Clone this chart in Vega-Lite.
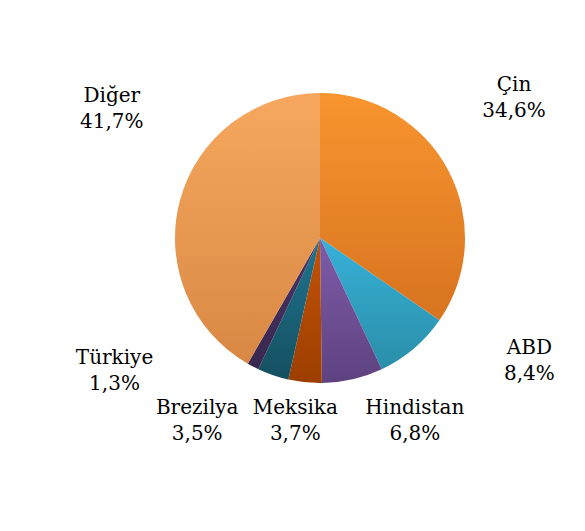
{
  "$schema": "https://vega.github.io/schema/vega-lite/v6.json",
  "width": 530,
  "height": 476,
  "autosize": {"type": "none"},
  "padding": {"left": 55, "top": 0, "right": 0, "bottom": 55},
  "background": "#FFFFFF",
  "config": {"view": {"stroke": null}},
  "data": {
    "values": [
      {"ulke": "Çin", "pay": 34.6, "etiket": "34,6%", "sira": 1},
      {"ulke": "ABD", "pay": 8.4, "etiket": "8,4%", "sira": 2},
      {"ulke": "Hindistan", "pay": 6.8, "etiket": "6,8%", "sira": 3},
      {"ulke": "Meksika", "pay": 3.7, "etiket": "3,7%", "sira": 4},
      {"ulke": "Brezilya", "pay": 3.5, "etiket": "3,5%", "sira": 5},
      {"ulke": "Türkiye", "pay": 1.3, "etiket": "1,3%", "sira": 6},
      {"ulke": "Diğer", "pay": 41.7, "etiket": "41,7%", "sira": 7}
    ]
  },
  "transform": [{"calculate": "datum.ulke + '\\n' + datum.etiket", "as": "yazi"}],
  "encoding": {
    "theta": {"field": "pay", "type": "quantitative", "stack": true},
    "order": {"field": "sira", "type": "quantitative"}
  },
  "layer": [
    {
      "mark": {"type": "arc", "outerRadius": 145, "stroke": null},
      "encoding": {
        "detail": {"field": "ulke", "type": "nominal"},
        "color": {
          "condition": [
            {"test": "datum.ulke === 'Çin'", "value": {"gradient": "linear", "x1": 0, "y1": 0, "x2": 0, "y2": 1, "stops": [{"offset": 0, "color": "#F8952F"}, {"offset": 1, "color": "#D8731F"}]}},
            {"test": "datum.ulke === 'ABD'", "value": {"gradient": "linear", "x1": 0, "y1": 0, "x2": 0, "y2": 1, "stops": [{"offset": 0, "color": "#37B1D9"}, {"offset": 1, "color": "#2A8EA8"}]}},
            {"test": "datum.ulke === 'Hindistan'", "value": {"gradient": "linear", "x1": 0, "y1": 0, "x2": 0, "y2": 1, "stops": [{"offset": 0, "color": "#7E5CA8"}, {"offset": 1, "color": "#5E4280"}]}},
            {"test": "datum.ulke === 'Meksika'", "value": {"gradient": "linear", "x1": 0, "y1": 0, "x2": 0, "y2": 1, "stops": [{"offset": 0, "color": "#C45306"}, {"offset": 1, "color": "#9C3E00"}]}},
            {"test": "datum.ulke === 'Brezilya'", "value": {"gradient": "linear", "x1": 0, "y1": 0, "x2": 0, "y2": 1, "stops": [{"offset": 0, "color": "#1F7591"}, {"offset": 1, "color": "#154F60"}]}},
            {"test": "datum.ulke === 'Türkiye'", "value": {"gradient": "linear", "x1": 0, "y1": 0, "x2": 0, "y2": 1, "stops": [{"offset": 0, "color": "#4A3468"}, {"offset": 1, "color": "#38274E"}]}}
          ],
          "value": {"gradient": "linear", "x1": 0, "y1": 0, "x2": 0, "y2": 1, "stops": [{"offset": 0, "color": "#F7A85E"}, {"offset": 1, "color": "#D88844"}]}
        }
      }
    },
    {
      "mark": {
        "type": "text",
        "radius": 200,
        "font": "DejaVu Serif",
        "fontSize": 20,
        "lineBreak": "\n",
        "lineHeight": 26,
        "align": "center",
        "baseline": "middle",
        "color": "#000000",
        "dx": {"expr": "datum.ulke === 'Çin' ? 17 : datum.ulke === 'ABD' ? 80 : datum.ulke === 'Hindistan' ? 50 : datum.ulke === 'Meksika' ? -4 : datum.ulke === 'Brezilya' ? -58 : datum.ulke === 'Türkiye' ? -113 : -15"},
        "dy": {"expr": "datum.ulke === 'Çin' ? -60 : datum.ulke === 'ABD' ? -42 : datum.ulke === 'Hindistan' ? -25 : datum.ulke === 'Meksika' ? -29 : datum.ulke === 'Brezilya' ? -19 : datum.ulke === 'Türkiye' ? -57 : -90"}
      },
      "encoding": {
        "text": {"field": "yazi", "type": "nominal"},
        "detail": {"field": "ulke", "type": "nominal"}
      }
    }
  ]
}
